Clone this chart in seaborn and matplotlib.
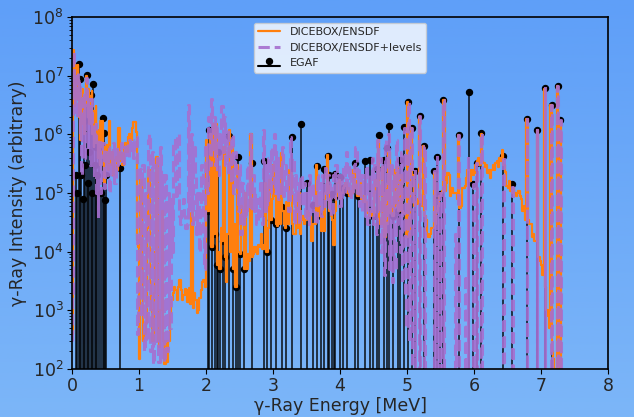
import numpy as np
import matplotlib
matplotlib.use("Agg")
import matplotlib.pyplot as plt
import seaborn as sns
from matplotlib.colors import LinearSegmentedColormap

# DICEBOX/ENSDF simulated spectrum (orange)
dice_E = [0.00, 0.01, 0.02, 0.03, 0.04, 0.05, 0.06, 0.07, 0.08, 0.09,
          0.10, 0.11, 0.12, 0.13, 0.14, 0.15, 0.16, 0.17, 0.18, 0.19,
          0.20, 0.21, 0.22, 0.23, 0.24, 0.25, 0.26, 0.27, 0.28, 0.29,
          0.30, 0.31, 0.32, 0.33, 0.34, 0.35, 0.36, 0.37, 0.38, 0.39,
          0.40, 0.41, 0.42, 0.43, 0.44, 0.45, 0.46, 0.47, 0.48, 0.49,
          0.50, 0.52, 0.54, 0.56, 0.58, 0.60, 0.62, 0.64, 0.66, 0.68,
          0.70, 0.72, 0.74, 0.76, 0.78, 0.80, 0.82, 0.84, 0.86, 0.88,
          0.90, 0.92, 0.94, 0.96, 0.97, 0.99,
          1.01, 1.03, 1.05, 1.07, 1.09, 1.11, 1.13, 1.15, 1.17, 1.19,
          1.21, 1.23, 1.25, 1.27, 1.29, 1.31, 1.33, 1.35, 1.37, 1.39,
          1.41, 1.43, 1.45, 1.47, 1.49, 1.51, 1.53, 1.55, 1.57, 1.59,
          1.61, 1.63, 1.65, 1.67, 1.69, 1.71, 1.73, 1.75, 1.77, 1.79,
          1.81, 1.83, 1.85, 1.87, 1.89, 1.91, 1.93, 1.95, 1.97, 1.99,
          2.01, 2.03, 2.05, 2.07, 2.09, 2.11, 2.13, 2.15, 2.17, 2.19,
          2.21, 2.23, 2.25, 2.27, 2.29, 2.31, 2.33, 2.35, 2.37, 2.39,
          2.41, 2.43, 2.45, 2.47, 2.49, 2.51, 2.53, 2.55, 2.57, 2.59,
          2.61, 2.63, 2.65, 2.67, 2.69, 2.71, 2.73, 2.75, 2.77, 2.79,
          2.81, 2.83, 2.85, 2.87, 2.89, 2.91, 2.93, 2.95, 2.97, 2.99,
          3.01, 3.03, 3.05, 3.07, 3.09, 3.11, 3.13, 3.15, 3.17, 3.19,
          3.21, 3.23, 3.25, 3.27, 3.29, 3.31, 3.33, 3.35, 3.37, 3.39,
          3.41, 3.43, 3.45, 3.47, 3.49, 3.51, 3.53, 3.55, 3.57, 3.59,
          3.61, 3.63, 3.65, 3.67, 3.69, 3.71, 3.73, 3.75, 3.77, 3.79,
          3.81, 3.83, 3.85, 3.87, 3.89, 3.91, 3.93, 3.95, 3.97, 3.99,
          4.01, 4.03, 4.05, 4.07, 4.09, 4.11, 4.13, 4.15, 4.17, 4.19,
          4.21, 4.23, 4.25, 4.27, 4.29, 4.31, 4.33, 4.35, 4.37, 4.39,
          4.41, 4.43, 4.45, 4.47, 4.49, 4.51, 4.53, 4.55, 4.57, 4.59,
          4.61, 4.63, 4.65, 4.67, 4.69, 4.71, 4.73, 4.75, 4.77, 4.79,
          4.81, 4.83, 4.85, 4.87, 4.89, 4.91, 4.93, 4.95, 4.97, 4.99,
          5.01, 5.03, 5.05, 5.07, 5.09, 5.11, 5.13, 5.15, 5.17, 5.19,
          5.21, 5.23, 5.25, 5.27, 5.29, 5.31, 5.33, 5.35, 5.37, 5.39,
          5.41, 5.43, 5.45, 5.47, 5.49, 5.51, 5.53, 5.55, 5.57, 5.59,
          5.61, 5.63, 5.65, 5.67, 5.69, 5.71, 5.73, 5.75, 5.77, 5.79,
          5.81, 5.83, 5.85, 5.87, 5.89, 5.91, 5.93, 5.95, 5.97, 5.99,
          6.01, 6.03, 6.05, 6.07, 6.09, 6.11, 6.13, 6.15, 6.17, 6.19,
          6.21, 6.23, 6.25, 6.27, 6.29, 6.31, 6.33, 6.35, 6.37, 6.39,
          6.41, 6.43, 6.45, 6.47, 6.49, 6.51, 6.53, 6.55, 6.57, 6.59,
          6.61, 6.63, 6.65, 6.67, 6.69, 6.71, 6.73, 6.75, 6.77, 6.79,
          6.81, 6.83, 6.85, 6.87, 6.89, 6.91, 6.93, 6.95, 6.97, 6.99,
          7.01, 7.03, 7.05, 7.07, 7.09, 7.11, 7.13, 7.15, 7.17, 7.19,
          7.21, 7.23, 7.25, 7.27, 7.29, 7.31]
dice_I = [4e2, 4e2, 2.8e7, 1.2e7, 3e6, 1.5e7, 5e6, 1.2e7, 4e6, 1.5e7,
          8.5e6, 2e6, 5e6, 8e5, 3e6, 1.5e6, 6e6, 2e6, 4e6, 1e6,
          3e6, 8e6, 1e7, 5e6, 2e6, 6e6, 1.5e6, 3e6, 4.5e6, 2e6,
          5.5e6, 1e6, 2.5e6, 6e5, 1.5e6, 9e5, 3e6, 7e5, 1.2e6, 4e5,
          1e6, 6e5, 3e5, 1.7e6, 6e5, 1.7e6, 9e5, 4e5, 1.5e5, 6e5,
          3e5, 6.6e5, 2.5e5, 1.7e6, 3e5, 5e5, 2e5, 3.6e5, 4.2e5, 2.5e5,
          1.3e6, 3.5e5, 4.8e5, 3e5, 6e5, 7e5, 5e5, 9e5, 1e6, 8e5,
          1.3e6, 1.6e6, 1.6e6, 1.1e6, 1.6e4, 1.2e4,
          1.5e2, 1.7e5, 5e3, 3e2, 4e2, 6e2, 2.5e4, 2.5e5, 3e3, 1e3,
          3e2, 2e3, 1e4, 4.2e5, 3e2, 2.4e2, 1e3, 5e4, 3e2, 1.2e2,
          3e2, 1.3e2, 3e2, 9e2, 1.5e3, 2e3, 2.5e3, 2.2e3, 1.5e3, 2.5e3,
          3.3e3, 2.2e3, 1.5e3, 1.8e3, 2.3e3, 2.2e3, 1.4e3, 2.4e3, 1.3e3, 4.5e4,
          1.1e3, 2e3, 1.5e3, 9e2, 1e3, 1.6e3, 2.2e3, 3e3, 3.3e3, 2.5e3,
          8e5, 5e4, 1.5e5, 1e6, 1.2e4, 1.5e6, 2e4, 1.5e6, 6e3, 1e4,
          5e3, 2.5e4, 1.5e4, 6e5, 8e3, 3e3, 2e4, 1.2e6, 1e4, 6e5,
          5e3, 3e4, 2.5e3, 3e5, 1e4, 9e3, 6e4, 4e4, 5e3, 1e5,
          5e3, 9e3, 7e3, 1e6, 8e3, 9e3, 1.2e4, 1e4, 9e3, 1.3e4,
          1.2e4, 2e4, 1.1e4, 1.3e4, 1.5e5, 1e4, 2.5e4, 1.7e5, 3.5e4, 8e4,
          3e5, 9e4, 3e4, 2.7e4, 8e4, 3e4, 4.8e5, 5e4, 3e4, 2.5e4,
          7e4, 3e4, 2.5e5, 2.2e5, 3e4, 2e4, 2e4, 6e4, 2.5e4, 1e5,
          2e4, 3.5e4, 4e4, 3e4, 3.5e4, 5e4, 4.5e4, 4e4, 1.5e4, 1.5e4,
          3e4, 3e4, 3e5, 4e4, 6e4, 4e4, 2.3e4, 5e4, 2.3e4, 1e5,
          4.5e5, 1.3e5, 5e4, 4e4, 3.5e4, 1.3e4, 5e4, 9e4, 1.5e5, 1.7e5,
          8e4, 1e5, 1.2e5, 1.3e5, 1.5e5, 1e5, 1.2e5, 9e4, 1.1e5, 1e5,
          2.5e5, 1.2e5, 1.6e5, 9e4, 1e5, 1.5e5, 8e4, 7e4, 9e4, 7e4,
          4.5e4, 4.5e4, 4e4, 5e4, 4e4, 1e5, 1.7e5, 1.3e5, 8e5, 3.5e4,
          3e4, 2.8e5, 1e5, 1.8e4, 1.4e5, 3e4, 5e5, 4.5e4, 6e4, 4e4,
          2.5e5, 6e4, 2.8e5, 5e4, 5e4, 2e5, 5e4, 4.5e4, 4.5e4, 1.8e4,
          3.6e6, 1.8e4, 9e4, 1.3e6, 2e5, 6e4, 7e4, 6.6e4, 8e4, 2e6,
          7e4, 6e4, 6.4e5, 4e4, 3.5e4, 2e4, 1.8e4, 2e4, 2.5e4, 2.5e4,
          2.2e5, 3e4, 5e4, 6e4, 9e4, 1e5, 1.1e5, 3.8e6, 1.1e5, 1.5e5,
          2.2e5, 2e5, 9e4, 1.2e5, 1e5, 1e5, 1e5, 8e4, 9.8e5, 5.5e4,
          6e4, 1.2e5, 1.2e5, 1.3e5, 1.8e5, 2.5e5, 2.5e5, 1.6e5, 2.5e5, 2e5,
          2.2e5, 3e5, 3.5e5, 4e5, 3e5, 1e6, 3.5e5, 3.2e5, 2.8e5, 3e5,
          2.2e5, 2.5e5, 1.8e5, 2.5e5, 3e5, 2.5e5, 3.3e5, 3.5e5, 2.8e5, 4e5,
          3.5e5, 5.5e5, 3e5, 2.3e5, 1.3e5, 1.2e5, 1.6e5, 1.1e5, 1e5, 1.2e5,
          1e5, 9e4, 1e5, 1.1e5, 9e4, 8e4, 5e4, 6e4, 3.5e4, 1.8e6,
          3.5e4, 3e4, 3e4, 1.8e4, 2e4, 1.5e4, 1.5e4, 1.2e6, 8e3, 7e3,
          6e3, 4e3, 6e6, 2.5e3, 1e3, 8e2, 5e2, 3.2e6, 2e2, 1.5e2,
          1e2, 8e1, 6.7e6, 8e1, 1.7e6, 5e1]

# DICEBOX/ENSDF+levels (purple), quasi-continuum part below ~5.1 MeV
lev_E = [0.00, 0.01, 0.02, 0.03, 0.04, 0.05, 0.06, 0.07, 0.08, 0.09,
         0.10, 0.11, 0.12, 0.13, 0.14, 0.15, 0.16, 0.17, 0.18, 0.19,
         0.20, 0.21, 0.22, 0.23, 0.24, 0.25, 0.26, 0.27, 0.28, 0.29,
         0.30, 0.31, 0.32, 0.33, 0.34, 0.35, 0.36, 0.37, 0.38, 0.39,
         0.40, 0.41, 0.42, 0.43, 0.44, 0.46, 0.48, 0.50, 0.52, 0.54,
         0.56, 0.58, 0.60, 0.62, 0.64, 0.66, 0.68, 0.70, 0.72, 0.74,
         0.76, 0.78, 0.80, 0.82, 0.84, 0.86, 0.88, 0.90, 0.92, 0.94,
         0.96, 0.98, 1.00, 1.02, 1.04, 1.06, 1.08, 1.10, 1.12, 1.14,
         1.16, 1.18, 1.20, 1.22, 1.24, 1.26, 1.28, 1.30, 1.32, 1.34,
         1.36, 1.38, 1.40, 1.42, 1.44, 1.46, 1.48, 1.50, 1.52, 1.54,
         1.56, 1.58, 1.60, 1.62, 1.64, 1.66, 1.68, 1.70, 1.72, 1.74,
         1.76, 1.78, 1.80, 1.82, 1.84, 1.86, 1.88, 1.90, 1.92, 1.94,
         1.96, 1.98, 2.00, 2.02, 2.04, 2.06, 2.08, 2.10, 2.12, 2.14,
         2.16, 2.18, 2.20, 2.22, 2.24, 2.26, 2.28, 2.30, 2.32, 2.34,
         2.36, 2.38, 2.40, 2.42, 2.44, 2.46, 2.48, 2.50, 2.52, 2.54,
         2.56, 2.58, 2.60, 2.62, 2.64, 2.66, 2.68, 2.70, 2.72, 2.74,
         2.76, 2.78, 2.80, 2.82, 2.84, 2.86, 2.88, 2.90, 2.92, 2.94,
         2.96, 2.98, 3.00, 3.02, 3.04, 3.06, 3.08, 3.10, 3.12, 3.14,
         3.16, 3.18, 3.20, 3.22, 3.24, 3.26, 3.28, 3.30, 3.32, 3.34,
         3.36, 3.38, 3.40, 3.42, 3.44, 3.46, 3.48, 3.50, 3.52, 3.54,
         3.56, 3.58, 3.60, 3.62, 3.64, 3.66, 3.68, 3.70, 3.72, 3.74,
         3.76, 3.78, 3.80, 3.82, 3.84, 3.86, 3.88, 3.90, 3.92, 3.94,
         3.96, 3.98, 4.00, 4.02, 4.04, 4.06, 4.08, 4.10, 4.12, 4.14,
         4.16, 4.18, 4.20, 4.22, 4.24, 4.26, 4.28, 4.30, 4.32, 4.34,
         4.36, 4.38, 4.40, 4.42, 4.44, 4.46, 4.48, 4.50, 4.52, 4.54,
         4.56, 4.58, 4.60, 4.62, 4.64, 4.66, 4.68, 4.70, 4.72, 4.74,
         4.76, 4.78, 4.80, 4.82, 4.84, 4.86, 4.88, 4.90, 4.92, 4.94,
         4.96, 4.98, 5.00, 5.02, 5.04, 5.06, 5.08]
lev_I = [3e2, 2e3, 2.5e7, 5e6, 1e7, 3e6, 1e7, 2e6, 6e6, 1.2e7,
         3e6, 8e6, 1e6, 4e6, 2e5, 2e6, 8e5, 5e6, 1.5e6, 4e5,
         3e6, 8e5, 9e6, 2e6, 6e5, 4e6, 7e5, 2e6, 3e5, 4e6,
         1.5e6, 3e5, 1.5e6, 2e5, 1e6, 4e5, 1.5e6, 1e5, 8e5, 4e4,
         6e5, 2e5, 8e5, 1e5, 5e5, 7e5, 1.2e5, 5e5, 2e5, 6e5,
         1e5, 5e5, 2e5, 7e5, 1.5e5, 6e5, 3e5, 5e5, 4e5, 7e5,
         3e5, 6e5, 4e5, 7e5, 4e5, 8e5, 5e5, 7e5, 4e5, 8e5,
         9e5, 4e2, 2e3, 2.6e5, 8e2, 3e5, 2e2, 1e5, 3e2, 8e5,
         1e6, 2e2, 5e5, 1.2e2, 3e5, 3e2, 4e5, 1.3e2, 6e5, 1.5e2,
         2e5, 1.3e2, 2e5, 2e2, 1e5, 5e2, 8e4, 1e4, 8e5, 1.5e5,
         8e4, 1e6, 4e4, 3e4, 5e4, 8e4, 4e4, 2.5e4, 3e4, 3.2e6,
         5e4, 1e6, 3e4, 6e5, 2e5, 2e4, 1e5, 1e4, 5e4, 3e5,
         2e4, 5e3, 6e5, 1e5, 2e6, 3e5, 4e6, 5e5, 2e6, 3e5,
         1.5e6, 2e5, 1e6, 4e5, 3e6, 5e5, 2e6, 3e5, 1.2e6, 2e5,
         8e5, 1.5e5, 1e6, 1e5, 5e5, 2e5, 5e4, 3e5, 2e4, 1.5e5,
         3e4, 1e5, 4e4, 3e5, 6e4, 1e6, 5e4, 2e5, 5e4, 1e5,
         3e4, 8e4, 4e4, 1.5e5, 3e4, 1.2e6, 5e4, 3e5, 6e4, 4e5,
         1e5, 6e5, 1.5e5, 1e6, 1e5, 5e5, 8e4, 3e5, 1e5, 6e5,
         8e4, 3e5, 1e5, 2e5, 5e4, 9e5, 1e5, 4e5, 3e4, 2e5,
         5e4, 1.5e5, 3e4, 2e5, 6e4, 1.5e5, 4e4, 1e5, 3e4, 2e5,
         4e4, 1.5e5, 5e4, 1e5, 3e4, 2e5, 6e4, 1.5e5, 4e4, 2e5,
         6e4, 3e5, 8e4, 2e5, 5e4, 1.5e5, 4e4, 2e5, 8e4, 3e5,
         1e5, 2e5, 6e4, 2e5, 8e4, 3e5, 1e5, 5e5, 1e5, 3e5,
         8e4, 2e5, 1e5, 3e5, 6e5, 1e5, 2.5e5, 6e4, 2e5, 5e4,
         2e5, 4e4, 3e5, 3e4, 2e5, 5e4, 4e5, 3e4, 3e5, 2e4,
         8e5, 5e4, 4e5, 1e4, 3e5, 4e3, 8e5, 2e4, 1e6, 5e3,
         3e5, 3e3, 2e5, 5e3, 8e5, 3e4, 3e5, 1e4, 5e5, 3e3,
         1.3e6, 2e3, 5e2, 3.6e6, 3e2, 1.3e6, 1e2]

# discrete levels in the +levels calculation above 5.1 MeV
lev_line_E = [5.12, 5.19, 5.26, 5.41, 5.45, 5.49, 5.54, 5.72, 5.77, 5.87,
              5.91, 5.99, 6.04, 6.11, 6.44, 6.57, 6.79, 6.94, 7.06, 7.16,
              7.25, 7.29]
lev_line_I = [2.4e5, 2.05e6, 6.4e5, 2.4e5, 4.2e5, 1e5, 3.8e6, 2e4, 9.8e5, 4e3,
              4e5, 1.4e5, 3.2e5, 1.04e6, 4.3e5, 1.4e5, 1.85e6, 1.2e6, 6.1e6, 3.2e6,
              6.7e6, 1.75e6]
lev_floor = 40.0

# EGAF measured lines
egaf_E = [0.06, 0.08, 0.10, 0.12, 0.14, 0.16, 0.18, 0.20, 0.22,
          0.24, 0.26, 0.28, 0.30, 0.32, 0.34, 0.36, 0.38, 0.40, 0.43,
          0.46, 0.47, 0.49, 0.51, 0.72,
          2.03, 2.04, 2.09, 2.13, 2.17, 2.18, 2.21, 2.25, 2.29, 2.35,
          2.41, 2.45, 2.48, 2.51, 2.57, 2.68,
          2.87, 2.91, 2.97, 3.05, 3.14, 3.19, 3.28, 3.42, 3.51, 3.59,
          3.65, 3.71, 3.76, 3.82, 3.83, 3.88, 3.91, 3.93, 4.00, 4.05,
          4.11, 4.23, 4.27, 4.38, 4.45, 4.49, 4.55, 4.58, 4.65, 4.70,
          4.73, 4.79, 4.87, 4.90, 4.96, 5.02, 5.07, 5.12, 5.19, 5.26,
          5.41, 5.45, 5.49, 5.54, 5.77, 5.93, 5.99, 6.04, 6.11, 6.44,
          6.57, 6.79, 6.94, 7.06, 7.16, 7.25, 7.29]
egaf_I = [2e5, 1e5, 1.56e7, 8.8e6, 2e5, 8e4, 1.7e6, 3e5, 1.05e7,
          1.5e5, 5e5, 4.7e6, 1e5, 7.2e6, 3e5, 6.2e5, 2e5, 6e5, 1e5,
          1.9e6, 1.05e6, 7.6e4, 2e5, 2.7e5,
          5e4, 1.2e6, 1.2e4, 2e4, 6e3, 5e5, 5e3, 1.5e4, 8e3, 9.4e5,
          5e3, 2.5e3, 4.1e5, 9e3, 5e3, 3.3e5,
          3.5e5, 1e4, 3.5e4, 3e4, 5.8e4, 2.5e4, 9.1e5, 1.5e6, 1.5e5, 6.2e4,
          2.9e5, 4e4, 2.6e5, 4.3e5, 2e5, 9.6e4, 8.7e4, 2.1e5, 1.9e5, 1.2e5,
          1e5, 3.2e5, 9e4, 3.5e5, 3.7e5, 4e4, 2.6e5, 9.6e5, 3.6e5, 5.9e5,
          1.4e6, 4e4, 5e4, 3.6e5, 1.35e6, 3.6e6, 1.3e6, 2.4e5, 2.05e6, 6.4e5,
          2.4e5, 4.2e5, 9.6e4, 3.8e6, 9.8e5, 5.2e6, 1.4e5, 3.2e5, 1.04e6, 4.3e5,
          1.4e5, 1.85e6, 1.2e6, 6.1e6, 3.2e6, 6.7e6, 1.75e6]

y_ticks = [1e2, 1e3, 1e4, 1e5, 1e6, 1e7, 1e8]
x_ticks = [0, 1, 2, 3, 4, 5, 6, 7, 8]

# full +levels curve: continuum part followed by the discrete spikes
lev_all_E = list(lev_E)
lev_all_I = list(lev_I)
for e, i in zip(lev_line_E, lev_line_I):
    lev_all_E += [e - 0.01, e, e + 0.01]
    lev_all_I += [lev_floor, i, lev_floor]

sns.set_style("ticks")
plt.rcParams["font.family"] = ["DejaVu Sans"]

fig = plt.figure(figsize=(6.34, 4.17), dpi=100)
# soft blue gradient background
bg = fig.add_axes([0, 0, 1, 1], zorder=-10)
grad = np.linspace(0, 1, 256).reshape(-1, 1)
bg_cmap = LinearSegmentedColormap.from_list("bg", ["#5f9ff8", "#7cb6f8"])
bg.imshow(grad, aspect="auto", cmap=bg_cmap, extent=[0, 1, 0, 1], origin="upper")
bg.axis("off")

ax = fig.add_axes([0.1136, 0.115, 0.8454, 0.844])
ax.patch.set_alpha(0)
ax.set_yscale("log")

sns.lineplot(x=dice_E, y=dice_I, ax=ax, sort=False, estimator=None,
             drawstyle="steps-mid", color="#ff7f0e", linewidth=1.6,
             label="DICEBOX/ENSDF", zorder=2)
sns.lineplot(x=lev_all_E, y=lev_all_I, ax=ax, sort=False, estimator=None,
             drawstyle="steps-mid", color="#a66fcf", linewidth=2.2,
             linestyle="--", alpha=0.9, label="DICEBOX/ENSDF+levels", zorder=2.5)

markerline, stemlines, baseline = ax.stem(egaf_E, egaf_I, linefmt="k-", markerfmt="ko",
                                          basefmt="k-", bottom=1, label="EGAF")
stemlines.set_linewidth(1.2)
stemlines.set_alpha(0.85)
stemlines.set_zorder(1.5)
markerline.set_markersize(4.3)
markerline.set_zorder(1.6)

ax.set_xlim(0, 8)
ax.set_ylim(1e2, 1e8)
ax.set_yticks(y_ticks)
ax.set_xticks(x_ticks)
ax.set_xlabel("γ-Ray Energy [MeV]", fontsize=12.5, labelpad=1)
ax.set_ylabel("γ-Ray Intensity (arbitrary)", fontsize=12.5, labelpad=4)
ax.tick_params(axis="both", which="major", labelsize=12.5, length=3.5, pad=2.5, color="k")
ax.tick_params(axis="y", which="minor", length=2, color="k")
for s in ax.spines.values():
    s.set_color("black")
    s.set_linewidth(1.2)

ax.legend(loc="upper center", fontsize=8, framealpha=0.8)

fig.savefig("out.png", dpi=100)
